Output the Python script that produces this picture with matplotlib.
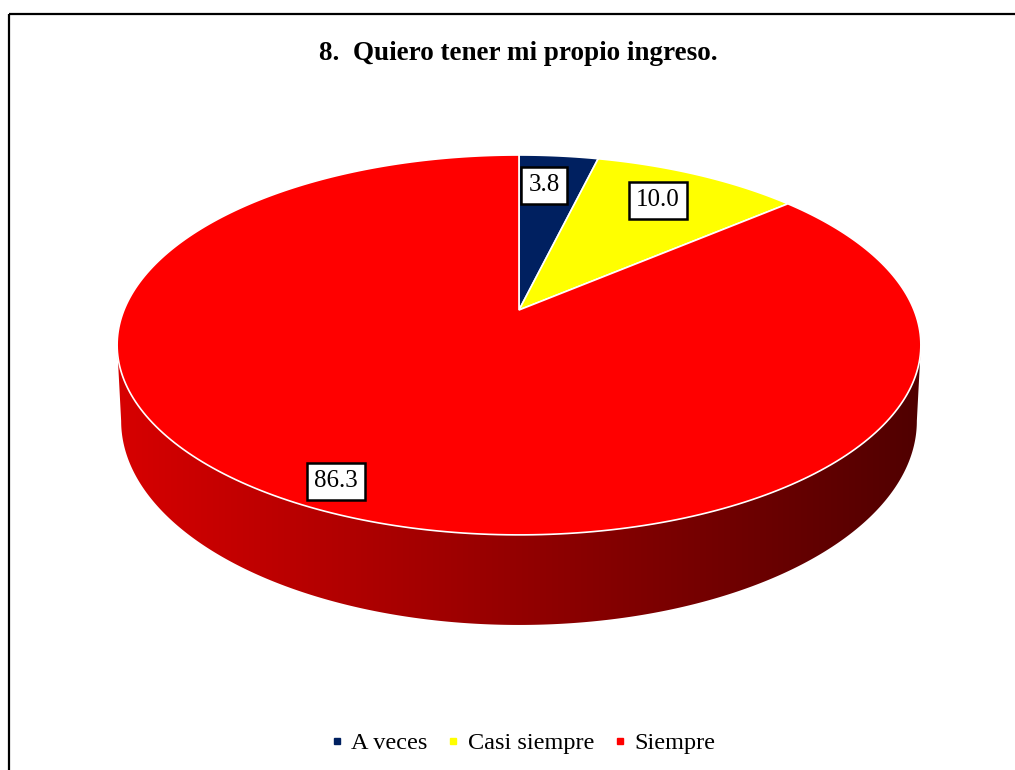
import numpy as np
import matplotlib
matplotlib.use("Agg")
import matplotlib.pyplot as plt
from matplotlib.patches import Polygon, Rectangle
from matplotlib.lines import Line2D

title = "8.  Quiero tener mi propio ingreso."
categories = ["A veces", "Casi siempre", "Siempre"]
values = [3.8, 10.0, 86.3]
colors = ["#002060", "#FFFF00", "#FF0000"]

# pie geometry in pixel space (perspective disc)
CX, CY = 519, 310
A, B, K = 395, 183.5, 0.184
DEPTH = 73.5


def project(theta):
    # theta clockwise from top, radians
    u, v = np.sin(theta), -np.cos(theta)
    s = 1.0 / (1 - K * v)
    return CX + A * u * s, CY + B * v * s, DEPTH * s


fig = plt.figure(figsize=(10.15, 7.70), dpi=100)
ax = fig.add_axes([0, 0, 1, 1])
ax.set_xlim(0, 1015)
ax.set_ylim(770, 0)
ax.axis("off")

# outer border (right/bottom run off the image)
ax.add_patch(Rectangle((9.5, 13.5), 1100, 900, fill=False, ec="black", lw=1.6))

# side wall: gradient image clipped to the wall outline
t_r = np.arccos(-K)
th = np.linspace(t_r, 2 * np.pi - t_r, 500)
xs, ys, ds = project(th)
# bottom rim slightly narrower (perspective)
xb = CX + (xs - CX) * 0.99
outline = list(zip(xs, ys)) + list(zip(xb[::-1], (ys + ds)[::-1]))
wall = Polygon(outline, closed=True, fc="none", ec="none")
ax.add_patch(wall)
f = np.linspace(0, 1, 512)
grad = np.zeros((1, 512, 3))
grad[0, :, 0] = (215 - 135 * f) / 255
x_lo, x_hi = xs.min(), xs.max()
im = ax.imshow(grad, extent=[x_lo, x_hi, 640, 330], aspect="auto", zorder=1,
               interpolation="bilinear")
im.set_clip_path(wall)
ax.set_xlim(0, 1015)
ax.set_ylim(770, 0)

# top face slices
total = sum(values)
start = 0.0
for val, col in zip(values, colors):
    end = start + val / total * 2 * np.pi
    t = np.linspace(start, end, 300)
    px, py, _ = project(t)
    pts = [(CX, CY)] + list(zip(px, py))
    ax.add_patch(Polygon(pts, closed=True, fc=col, ec="white", lw=1.2, zorder=3))
    start = end

# data labels
label_pos = [(544, 185), (658, 200), (336, 481)]
for val, (lx, ly) in zip(values, label_pos):
    ax.text(lx, ly, f"{val:.1f}", ha="center", va="center", fontsize=18,
            family="Liberation Serif", zorder=5,
            bbox=dict(boxstyle="square,pad=0.3", fc="white", ec="black", lw=1.8))

ax.text(518, 53, title, ha="center", va="center", fontsize=19.5,
        fontweight="bold", family="Liberation Serif")

handles = [Line2D([], [], ls="", marker="s", ms=5, mfc=c, mec=c) for c in colors]
fig.legend(handles, categories, loc="center", bbox_to_anchor=(523 / 1015, 1 - 743 / 770),
           ncol=3, frameon=False, prop={"family": "Liberation Serif", "size": 17.5},
           handlelength=0.5, handletextpad=0.35, columnspacing=0.8)

fig.savefig("out.png", dpi=100)
